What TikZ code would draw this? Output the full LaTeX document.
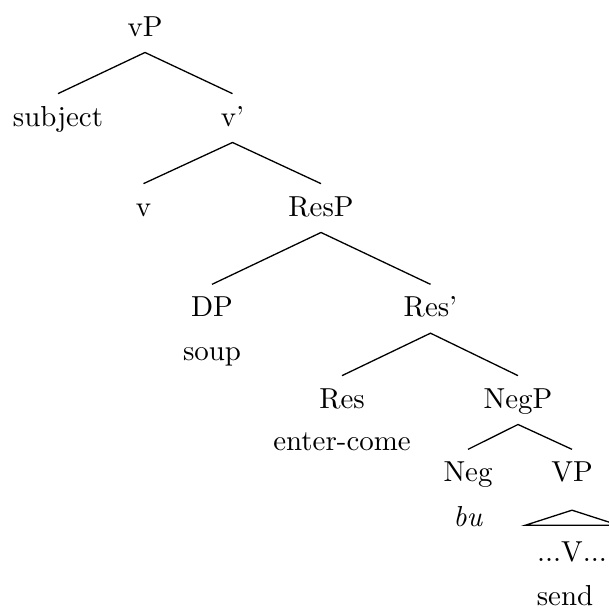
\documentclass[tikz,border=0pt]{standalone}
\usetikzlibrary{calc}
\begin{document}
\begin{tikzpicture}[x=0.346pt,y=-0.346pt,
  lab/.style={anchor=base, inner xsep=0pt, inner ysep=4pt, text height=7pt, text depth=1.5pt},
  plain/.style={anchor=base, inner sep=0pt},
  branch/.style={draw=black, line width=0.45pt}]
\useasboundingbox (0,0) rectangle (609,608);
% level 0
\node[lab] (vP) at (145,36) {vP};
% level 1
\node[lab] (subj) at (58,126) {subject};
\node[lab] (vbar) at (232.5,126) {v'};
% level 2
\node[lab] (v) at (143.5,216) {v};
\node[lab] (ResP) at (321,216) {ResP};
% level 3
\node[lab] (DP) at (212,316.7) {DP};
\node[lab] (Resbar) at (430.5,316.7) {Res'};
\node[plain] (soup) at (212,360.7) {soup};
% level 4
\node[lab] (Res) at (342,408) {Res};
\node[lab] (NegP) at (518,408) {NegP};
\node[plain] (ec) at (342,450.7) {enter-come};
% level 5
\node[lab] (Neg) at (468,481.7) {Neg};
\node[lab] (VP) at (572,481.7) {VP};
\node[plain] (bu) at (468,526.7) {\textit{bu}};
\node[lab] (dots) at (572,561.7) {...V...};
\node[plain] (send) at (565,605) {send};
% branches
\draw[branch] (subj.north) -- (vP.south) -- (vbar.north);
\draw[branch] (v.north) -- (vbar.south) -- (ResP.north);
\draw[branch] (DP.north) -- (ResP.south) -- (Resbar.north);
\draw[branch] (Res.north) -- (Resbar.south) -- (NegP.north);
\draw[branch] (Neg.north) -- (NegP.south) -- (VP.north);
% triangle
\coordinate (apex) at ($(VP.south)+(0,12)$);
\coordinate (bl) at ($(dots.north)+(-47,-4)$);
\coordinate (br) at ($(dots.north)+(47,-4)$);
\draw[branch] (apex) -- (bl) -- (br) -- cycle;
\end{tikzpicture}
\end{document}
